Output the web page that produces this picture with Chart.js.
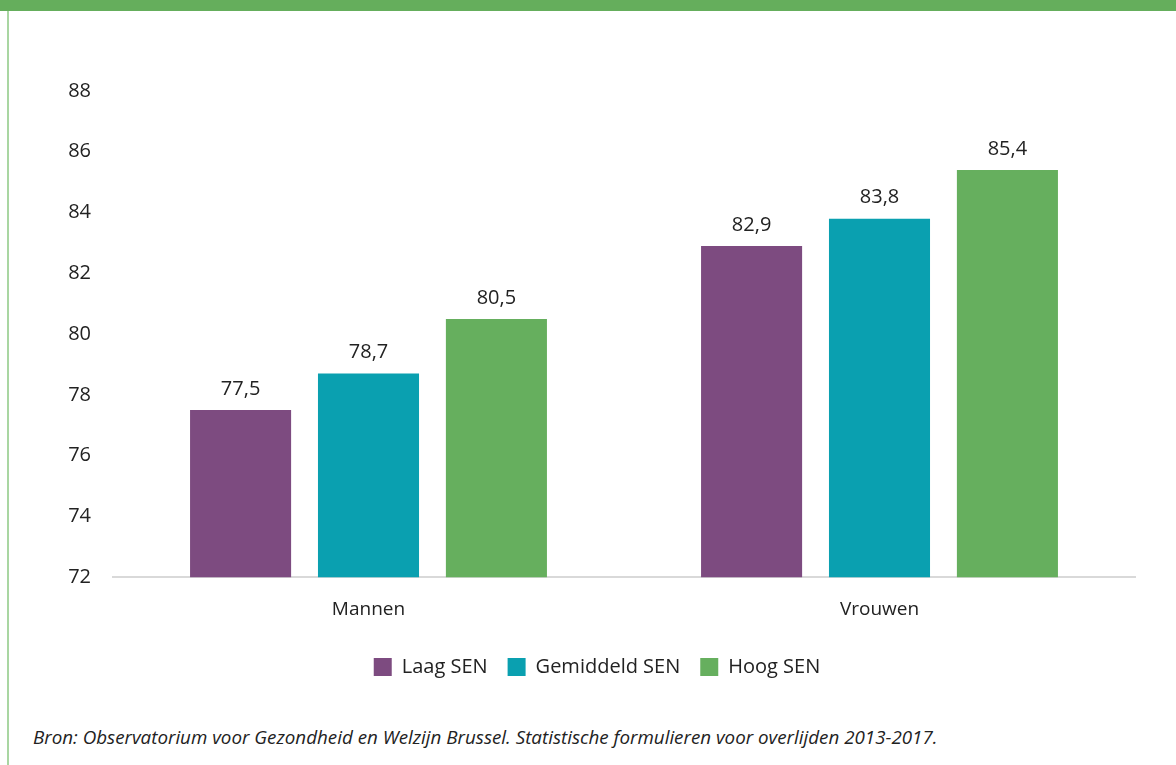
<!DOCTYPE html>
<html>
<head>
<meta charset="utf-8">
<script src="https://cdn.jsdelivr.net/npm/chart.js@4/dist/chart.umd.min.js"></script>
<style>
    body { margin: 0; background: #fff; }
    #wrap { position: relative; width: 1176px; height: 765px; overflow: hidden; }
    #band { position: absolute; left: 0; top: 0; width: 1176px; height: 11px; background: #65ae5c; }
    #edge { position: absolute; left: 7px; top: 11px; width: 2px; height: 754px; background: #a9d6a2; }
    #chart-box { position: absolute; left: 0; top: 0; width: 1176px; height: 700px; }
    #bron { position: absolute; left: 33px; top: 724px; font-family: "Open Sans", sans-serif;
        font-style: italic; font-size: 18.8px; color: #222; white-space: nowrap; }
</style>
</head>
<body>
<div id="wrap">
    <div id="band"></div>
    <div id="edge"></div>
    <div id="chart-box"><canvas id="sen"></canvas></div>
    <div id="bron">Bron: Observatorium voor Gezondheid en Welzijn Brussel. Statistische formulieren voor overlijden 2013-2017.</div>
</div>
<script>
const categories = ['Mannen', 'Vrouwen'];
const seriesNames = ['Laag SEN', 'Gemiddeld SEN', 'Hoog SEN'];
const laagSen = [77.5, 82.9];
const gemiddeldSen = [78.7, 83.8];
const hoogSen = [80.5, 85.4];
const yTicks = [72, 74, 76, 78, 80, 82, 84, 86, 88];

function get_colors() {
    return ['#7d4b80', '#0aa0b0', '#66af5e'];
}

// writes the value above each bar, with a decimal comma
const valueLabels = {
    id: 'valueLabels',
    afterDatasetsDraw(chart) {
        const ctx = chart.ctx;
        ctx.save();
        ctx.font = '20px "Open Sans", sans-serif';
        ctx.fillStyle = '#222';
        ctx.textAlign = 'center';
        ctx.textBaseline = 'bottom';
        chart.data.datasets.forEach((ds, i) => {
            chart.getDatasetMeta(i).data.forEach((bar, j) => {
                ctx.fillText(ds.data[j].toFixed(1).replace('.', ','), bar.x, bar.y - 11);
            });
        });
        ctx.restore();
    }
};

function printSenChart(id) {
    const ctx = document.getElementById(id);
    const colors = get_colors();
    const values = [laagSen, gemiddeldSen, hoogSen];
    const ds = [];
    for (let i = 0; i < seriesNames.length; i++) {
        ds.push({
            label: seriesNames[i],
            data: values[i],
            backgroundColor: colors[i],
            barPercentage: 0.79,
            categoryPercentage: 0.751
        });
    }

    Chart.defaults.font.family = '"Open Sans", sans-serif';
    Chart.defaults.color = '#222';

    new Chart(ctx, {
        type: 'bar',
        data: { labels: categories, datasets: ds },
        options: {
            responsive: true,
            maintainAspectRatio: false,
            animation: false,
            layout: { padding: { top: 91, right: 41, left: 59, bottom: 13 } },
            plugins: {
                legend: {
                    position: 'bottom',
                    labels: {
                        boxWidth: 18,
                        boxHeight: 18,
                        padding: 20,
                        font: { size: 20 }
                    }
                },
                tooltip: { enabled: false }
            },
            scales: {
                x: {
                    afterFit(scale) { scale.height -= 5; },
                    grid: { display: false, drawTicks: false },
                    border: { color: '#d9d9d9', width: 2 },
                    ticks: { padding: 21, font: { size: 19 } }
                },
                y: {
                    min: 72,
                    max: 88,
                    afterFit(scale) { scale.width = 54; },
                    afterBuildTicks(scale) { scale.ticks = yTicks.map(v => ({ value: v })); },
                    grid: { display: false, drawTicks: false },
                    border: { display: false },
                    ticks: { padding: 22, font: { size: 20 } }
                }
            }
        },
        plugins: [valueLabels]
    });
}

printSenChart('sen');
</script>
</body>
</html>
